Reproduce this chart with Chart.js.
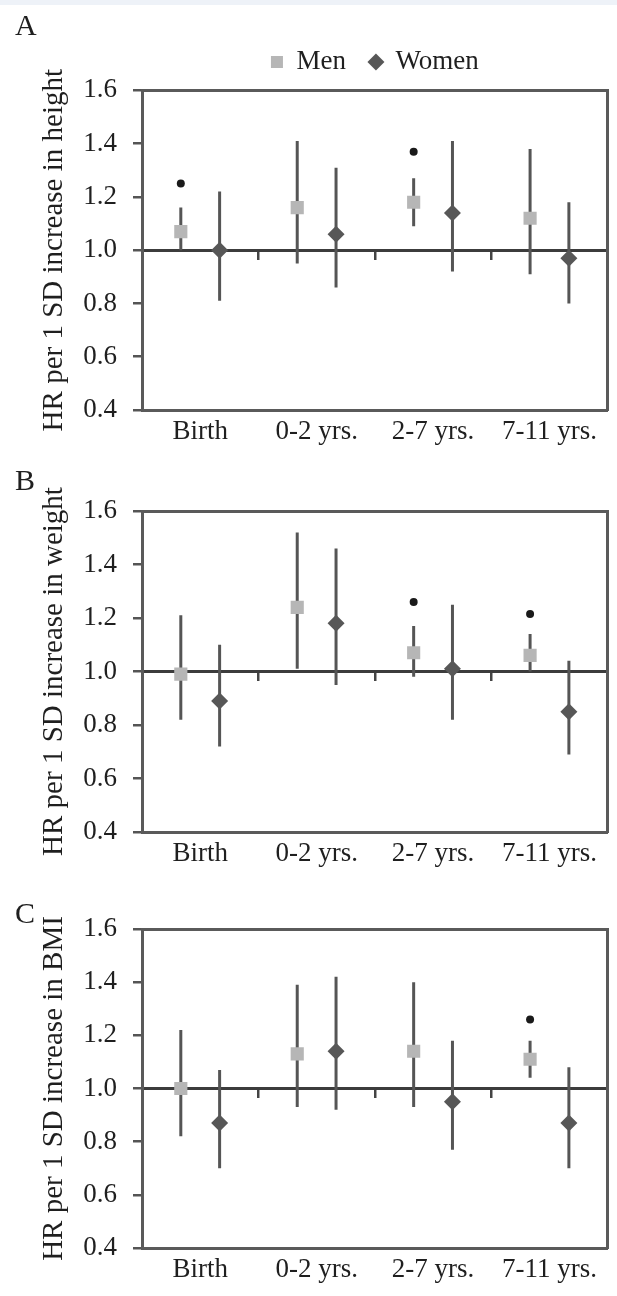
<!DOCTYPE html>
<html><head><meta charset="utf-8">
<script src="https://cdn.jsdelivr.net/npm/chart.js@4.4.1/dist/chart.umd.min.js"></script>
<style>
html,body{margin:0;padding:0;background:#fff;}
body{width:617px;height:1296px;position:relative;overflow:hidden;}
canvas{position:absolute;left:0;}
#strip{position:absolute;left:0;top:0;width:617px;height:5px;background:#eef2f8;}
</style></head><body>
<div id="strip"></div>
<canvas id="cA" width="617" height="460" style="top:0px"></canvas>
<canvas id="cB" width="617" height="425" style="top:460px"></canvas>
<canvas id="cC" width="617" height="411" style="top:885px"></canvas>
<script>
// ---- data ----
const categories = ['Birth', '0-2 yrs.', '2-7 yrs.', '7-11 yrs.'];
const yTicks = [0.4, 0.6, 0.8, 1.0, 1.2, 1.4, 1.6];
const seriesNames = ['Men', 'Women'];

// Panel A: height
const menA      = [1.07, 1.16, 1.18, 1.12];
const menA_lo   = [1.00, 0.95, 1.09, 0.91];
const menA_hi   = [1.16, 1.41, 1.27, 1.38];
const womenA    = [1.00, 1.06, 1.14, 0.97];
const womenA_lo = [0.81, 0.86, 0.92, 0.80];
const womenA_hi = [1.22, 1.31, 1.41, 1.18];
const sigA      = [1.25, null, 1.37, null];

// Panel B: weight
const menB      = [0.99, 1.24, 1.07, 1.06];
const menB_lo   = [0.82, 1.01, 0.98, 1.00];
const menB_hi   = [1.21, 1.52, 1.17, 1.14];
const womenB    = [0.89, 1.18, 1.01, 0.85];
const womenB_lo = [0.72, 0.95, 0.82, 0.69];
const womenB_hi = [1.10, 1.46, 1.25, 1.04];
const sigB      = [null, null, 1.26, 1.215];

// Panel C: BMI
const menC      = [1.00, 1.13, 1.14, 1.11];
const menC_lo   = [0.82, 0.93, 0.93, 1.04];
const menC_hi   = [1.22, 1.39, 1.40, 1.18];
const womenC    = [0.87, 1.14, 0.95, 0.87];
const womenC_lo = [0.70, 0.92, 0.77, 0.70];
const womenC_hi = [1.07, 1.42, 1.18, 1.08];
const sigC      = [null, null, null, 1.26];

// ---- styling ----
const FONT = "'Liberation Serif', 'Times New Roman', serif";
const TXT = '#1f1f1f';
const MEN_OFF = 1/3, WOMEN_OFF = 2/3;

function pts(vals, off) { return vals.map((v, i) => ({x: i + off, y: v})); }
function ci(lo, hi, off) {
  const d = [];
  lo.forEach((l, i) => { d.push({x: i + off, y: l}, {x: i + off, y: hi[i]}, {x: i + off, y: null}); });
  return d;
}
function sig(vals, off) {
  const d = [];
  vals.forEach((v, i) => { if (v !== null) d.push({x: i + off, y: v}); });
  return d;
}

function panel(id, letter, yTitle, men, menLo, menHi, women, womenLo, womenHi, sg, L) {
  new Chart(document.getElementById(id), {
    type: 'scatter',
    data: {
      datasets: [
        {label: seriesNames[0], data: pts(men, MEN_OFF), pointStyle: 'rect', pointRadius: 9.3,
         backgroundColor: '#b6b6b6', borderColor: '#b6b6b6', borderWidth: 0, xAxisID: 'x', yAxisID: 'y'},
        {label: seriesNames[1], data: pts(women, WOMEN_OFF), pointStyle: 'rectRot', pointRadius: 8.5,
         backgroundColor: '#575757', borderColor: '#575757', borderWidth: 0, xAxisID: 'x', yAxisID: 'y'},
        {label: 'sig', data: sig(sg, MEN_OFF), pointStyle: 'circle', pointRadius: 4,
         backgroundColor: '#1a1a1a', borderWidth: 0, xAxisID: 'x', yAxisID: 'y'},
        {label: 'ci men', data: ci(menLo, menHi, MEN_OFF), showLine: true, spanGaps: false, pointRadius: 0,
         borderColor: '#555555', borderWidth: 3, xAxisID: 'x', yAxisID: 'y'},
        {label: 'ci women', data: ci(womenLo, womenHi, WOMEN_OFF), showLine: true, spanGaps: false, pointRadius: 0,
         borderColor: '#555555', borderWidth: 3, xAxisID: 'x', yAxisID: 'y'}
      ]
    },
    options: {
      responsive: false, animation: false, events: [],
      layout: {padding: {left: 15, right: 0, top: 0, bottom: 0}},
      plugins: {
        tooltip: {enabled: false},
        title: {display: true, text: letter, align: 'start', color: TXT,
                font: {family: FONT, size: 30, weight: 'normal'}, padding: L.titlePad},
        legend: {display: L.legend, fullSize: false,
                 labels: {usePointStyle: true, boxWidth: 12, boxHeight: 12, padding: 24, color: TXT,
                          font: {family: FONT, size: 27},
                          filter: (item) => item.datasetIndex < 2}}
      },
      scales: {
        x: {type: 'linear', position: 'bottom', min: 0, max: 4,
            afterBuildTicks: (ax) => { ax.ticks = categories.map((c, i) => ({value: i + 0.5})); },
            ticks: {callback: (v, i) => categories[i], font: {family: FONT, size: 27}, color: TXT,
                    padding: 6, maxRotation: 0, autoSkip: false},
            grid: {display: false, drawTicks: false},
            border: {display: true, color: '#5a5a5a', width: 3},
            afterFit: (ax) => { ax.height = L.xh; }},
        xm: {type: 'linear', position: {y: 1}, min: 0, max: 4,
             afterBuildTicks: (ax) => { ax.ticks = categories.slice(1).map((c, i) => ({value: i + 1})); },
             ticks: {display: false},
             grid: {display: true, drawOnChartArea: false, drawTicks: true, tickLength: 8, color: '#444', lineWidth: 2.5},
             border: {display: true, color: '#3c3c3c', width: 3}},
        xt: {type: 'linear', position: 'top', min: 0, max: 4,
             ticks: {display: false}, grid: {display: false, drawTicks: false},
             border: {display: true, color: '#5a5a5a', width: 3},
             afterFit: (ax) => { ax.height = L.spacer; }},
        y: {type: 'linear', position: 'left', min: 0.4, max: 1.6,
            afterBuildTicks: (ax) => { ax.ticks = yTicks.map(v => ({value: v})); },
            ticks: {callback: (v) => Number(v).toFixed(1), font: {family: FONT, size: 27}, color: TXT, padding: 16},
            grid: {drawOnChartArea: false, drawTicks: true, tickLength: 9, color: '#555', lineWidth: 2.5},
            border: {display: true, color: '#5a5a5a', width: 3},
            title: {display: true, text: yTitle, color: TXT, font: {family: FONT, size: 29},
                    padding: {top: 22, bottom: 0}},
            afterFit: (ax) => { ax.width = 127; }},
        yr: {type: 'linear', position: 'right', min: 0.4, max: 1.6,
             ticks: {display: false}, grid: {display: false, drawTicks: false},
             border: {display: true, color: '#5a5a5a', width: 3},
             afterFit: (ax) => { ax.width = 5; }}
      }
    }
  });
}

panel('cA', 'A', 'HR per 1 SD increase in height', menA, menA_lo, menA_hi, womenA, womenA_lo, womenA_hi, sigA,
      {titlePad: {top: 9, bottom: -20.6}, legend: true, spacer: 5, xh: 50});
panel('cB', 'B', 'HR per 1 SD increase in weight', menB, menB_lo, menB_hi, womenB, womenB_lo, womenB_hi, sigB,
      {titlePad: {top: 4, bottom: 0}, legend: false, spacer: 11, xh: 53});
panel('cC', 'C', 'HR per 1 SD increase in BMI', menC, menC_lo, menC_hi, womenC, womenC_lo, womenC_hi, sigC,
      {titlePad: {top: 12, bottom: -4}, legend: false, spacer: 0, xh: 48});
</script>
</body></html>
